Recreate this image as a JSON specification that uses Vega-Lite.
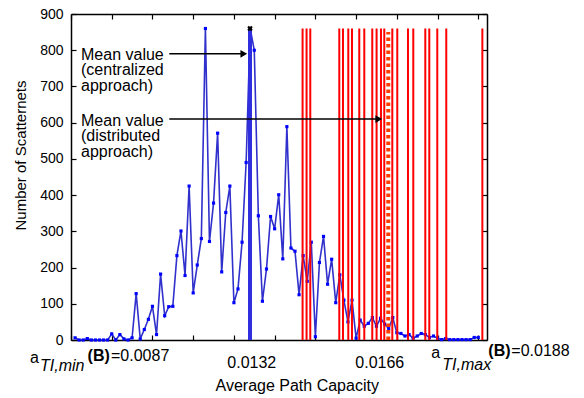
{
  "$schema": "https://vega.github.io/schema/vega-lite/v6.json",
  "width": 416,
  "height": 326,
  "autosize": {"type": "none"},
  "padding": {"left": 71, "top": 14, "right": 97, "bottom": 58},
  "background": "#ffffff",
  "config": {
    "view": {"stroke": null},
    "font": "Liberation Sans",
    "axis": {
      "grid": false,
      "domainColor": "#000000",
      "domainWidth": 1.5,
      "tickColor": "#000000",
      "tickWidth": 1.2,
      "tickSize": -5,
      "labelFont": "Liberation Sans",
      "labelFontSize": 14,
      "labelColor": "#000000",
      "titleFont": "Liberation Sans",
      "titleFontWeight": "normal",
      "titleColor": "#000000"
    }
  },
  "datasets": {
    "counts": [
      {"capacity": 0.0088, "count": 6}, {"capacity": 0.0089, "count": 0}, {"capacity": 0.0090, "count": 0}, {"capacity": 0.0091, "count": 4},
      {"capacity": 0.0092, "count": 0}, {"capacity": 0.0093, "count": 0}, {"capacity": 0.0094, "count": 0}, {"capacity": 0.0095, "count": 0},
      {"capacity": 0.0096, "count": 0}, {"capacity": 0.0097, "count": 17}, {"capacity": 0.0098, "count": 0}, {"capacity": 0.0099, "count": 15},
      {"capacity": 0.0100, "count": 3}, {"capacity": 0.0101, "count": 0}, {"capacity": 0.0102, "count": 6}, {"capacity": 0.0103, "count": 128},
      {"capacity": 0.0104, "count": 3}, {"capacity": 0.0105, "count": 29}, {"capacity": 0.0106, "count": 57}, {"capacity": 0.0107, "count": 93},
      {"capacity": 0.0108, "count": 15}, {"capacity": 0.0109, "count": 182}, {"capacity": 0.0110, "count": 67}, {"capacity": 0.0111, "count": 92},
      {"capacity": 0.0112, "count": 93}, {"capacity": 0.0113, "count": 233}, {"capacity": 0.0114, "count": 301}, {"capacity": 0.0115, "count": 178},
      {"capacity": 0.0116, "count": 425}, {"capacity": 0.0117, "count": 130}, {"capacity": 0.0118, "count": 207}, {"capacity": 0.0119, "count": 280},
      {"capacity": 0.0120, "count": 860}, {"capacity": 0.0121, "count": 272}, {"capacity": 0.0122, "count": 378}, {"capacity": 0.0123, "count": 571},
      {"capacity": 0.0124, "count": 188}, {"capacity": 0.0125, "count": 352}, {"capacity": 0.0126, "count": 425}, {"capacity": 0.0127, "count": 103},
      {"capacity": 0.0128, "count": 141}, {"capacity": 0.0129, "count": 270}, {"capacity": 0.0130, "count": 490}, {"capacity": 0.0131, "count": 860},
      {"capacity": 0.0132, "count": 800}, {"capacity": 0.0133, "count": 343}, {"capacity": 0.0134, "count": 107}, {"capacity": 0.0135, "count": 196},
      {"capacity": 0.0136, "count": 341}, {"capacity": 0.0137, "count": 307}, {"capacity": 0.0138, "count": 401}, {"capacity": 0.0139, "count": 224},
      {"capacity": 0.0140, "count": 589}, {"capacity": 0.0141, "count": 254}, {"capacity": 0.0142, "count": 245}, {"capacity": 0.0143, "count": 125},
      {"capacity": 0.0144, "count": 233}, {"capacity": 0.0145, "count": 162}, {"capacity": 0.0146, "count": 270}, {"capacity": 0.0147, "count": 9},
      {"capacity": 0.0148, "count": 214}, {"capacity": 0.0149, "count": 286}, {"capacity": 0.0150, "count": 154}, {"capacity": 0.0151, "count": 223},
      {"capacity": 0.0152, "count": 103}, {"capacity": 0.0153, "count": 180}, {"capacity": 0.0154, "count": 110}, {"capacity": 0.0155, "count": 50},
      {"capacity": 0.0156, "count": 110}, {"capacity": 0.0157, "count": 5}, {"capacity": 0.0158, "count": 55}, {"capacity": 0.0159, "count": 38},
      {"capacity": 0.0160, "count": 46}, {"capacity": 0.0161, "count": 62}, {"capacity": 0.0162, "count": 38}, {"capacity": 0.0163, "count": 60},
      {"capacity": 0.0164, "count": 44}, {"capacity": 0.0165, "count": 31}, {"capacity": 0.0166, "count": 62}, {"capacity": 0.0167, "count": 20},
      {"capacity": 0.0168, "count": 18}, {"capacity": 0.0169, "count": 11}, {"capacity": 0.0170, "count": 15}, {"capacity": 0.0171, "count": 5},
      {"capacity": 0.0172, "count": 11}, {"capacity": 0.0173, "count": 18}, {"capacity": 0.0174, "count": 15}, {"capacity": 0.0175, "count": 7},
      {"capacity": 0.0176, "count": 11}, {"capacity": 0.0177, "count": 5}, {"capacity": 0.0178, "count": 1}, {"capacity": 0.0179, "count": 4},
      {"capacity": 0.0180, "count": 1}, {"capacity": 0.0181, "count": 1}, {"capacity": 0.0182, "count": 1}, {"capacity": 0.0183, "count": 1},
      {"capacity": 0.0184, "count": 1}, {"capacity": 0.0185, "count": 1}, {"capacity": 0.0186, "count": 7}, {"capacity": 0.0187, "count": 7}
    ],
    "distributed": [
      {"capacity": 0.014386, "lo": 0, "hi": 860}, {"capacity": 0.014484, "lo": 0, "hi": 860}, {"capacity": 0.014575, "lo": 0, "hi": 860},
      {"capacity": 0.015287, "lo": 0, "hi": 860}, {"capacity": 0.015378, "lo": 0, "hi": 860}, {"capacity": 0.015508, "lo": 0, "hi": 860},
      {"capacity": 0.015599, "lo": 0, "hi": 860}, {"capacity": 0.015778, "lo": 0, "hi": 860}, {"capacity": 0.015901, "lo": 0, "hi": 860},
      {"capacity": 0.016097, "lo": 0, "hi": 860}, {"capacity": 0.016203, "lo": 0, "hi": 860}, {"capacity": 0.016311, "lo": 0, "hi": 860},
      {"capacity": 0.016392, "lo": 0, "hi": 860}, {"capacity": 0.016589, "lo": 0, "hi": 860}, {"capacity": 0.016711, "lo": 0, "hi": 860},
      {"capacity": 0.016974, "lo": 0, "hi": 860}, {"capacity": 0.017104, "lo": 0, "hi": 860}, {"capacity": 0.017399, "lo": 0, "hi": 860},
      {"capacity": 0.017497, "lo": 0, "hi": 860}, {"capacity": 0.017693, "lo": 0, "hi": 860}, {"capacity": 0.017914, "lo": 0, "hi": 860},
      {"capacity": 0.0188, "lo": 0, "hi": 860}
    ],
    "distMean": [{"capacity": 0.01649, "lo": 0, "hi": 850}],
    "centMean": [{"capacity": 0.013095, "lo": 0, "hi": 860}],
    "arrows": [
      {"start": 0.011113, "end": 0.012943, "count": 790},
      {"start": 0.011113, "end": 0.016257, "count": 610}
    ],
    "notes": [
      {"label": "Mean value\n(centralized\napproach)", "capacity": 0.008946, "count": 788},
      {"label": "Mean value\n(distributed\napproach)", "capacity": 0.008946, "count": 605}
    ],
    "ticklabels": [
      {"label": "0.0132", "capacity": 0.013139, "count": -78},
      {"label": "0.0166", "capacity": 0.016282, "count": -78}
    ],
    "eqlabels": [
      {"label": "=0.0087", "capacity": 0.009682, "count": -57},
      {"label": "=0.0188", "capacity": 0.019511, "count": -44}
    ],
    "boldlabels": [
      {"label": "(B)", "capacity": 0.009108, "count": -57},
      {"label": "(B)", "capacity": 0.018946, "count": -44}
    ],
    "italiclabels": [
      {"label": "TI,min", "capacity": 0.007939, "count": -85.6},
      {"label": "TI,max", "capacity": 0.017816, "count": -82}
    ],
    "alabels": [
      {"label": "a", "capacity": 0.007693, "count": -63.5},
      {"label": "a", "capacity": 0.017546, "count": -50}
    ]
  },
  "layer": [
    {
      "data": {"name": "counts"},
      "mark": {"type": "line", "color": "#3030cc", "strokeWidth": 1.6, "point": {"filled": true, "color": "#0000ff", "size": 10, "shape": "square"}},
      "encoding": {
        "x": {
          "field": "capacity", "type": "quantitative",
          "scale": {"domain": [0.0087, 0.018914], "nice": false, "zero": false},
          "axis": {
            "orient": "bottom",
            "values": [0.0087, 0.0097, 0.0107, 0.0117, 0.0127, 0.0137, 0.0147, 0.0157, 0.0167, 0.0177, 0.0187],
            "labels": false,
            "title": "Average Path Capacity",
            "titleFontSize": 16,
            "titleX": 225.7,
            "titleY": 50,
            "titleBaseline": "alphabetic",
            "titleAlign": "center"
          }
        },
        "y": {
          "field": "count", "type": "quantitative",
          "scale": {"domain": [0, 900], "nice": false, "zero": true},
          "axis": {
            "orient": "left",
            "values": [0, 100, 200, 300, 400, 500, 600, 700, 800, 900],
            "labelPadding": 13,
            "title": "Number of Scatternets",
            "titleFontSize": 15,
            "titleX": -46,
            "titleY": 141,
            "titleBaseline": "alphabetic",
            "titleAlign": "center"
          }
        }
      }
    },
    {
      "data": {"name": "counts"},
      "mark": {"type": "point", "opacity": 0},
      "encoding": {
        "x": {"field": "capacity", "type": "quantitative",
          "axis": {"orient": "top", "values": [0.0087, 0.0097, 0.0107, 0.0117, 0.0127, 0.0137, 0.0147, 0.0157, 0.0167, 0.0177, 0.0187], "labels": false, "title": null}},
        "y": {"field": "count", "type": "quantitative",
          "axis": {"orient": "right", "values": [0, 100, 200, 300, 400, 500, 600, 700, 800, 900], "labels": false, "title": null}}
      }
    },
    {
      "data": {"name": "distributed"},
      "mark": {"type": "rule", "color": "#ff0000", "strokeWidth": 2},
      "encoding": {
        "x": {"field": "capacity", "type": "quantitative", "axis": null},
        "y": {"field": "lo", "type": "quantitative", "axis": null},
        "y2": {"field": "hi"}
      }
    },
    {
      "data": {"name": "distMean"},
      "mark": {"type": "rule", "color": "#ff3c00", "strokeWidth": 4, "strokeDash": [3.5, 3]},
      "encoding": {
        "x": {"field": "capacity", "type": "quantitative", "axis": null},
        "y": {"field": "lo", "type": "quantitative", "axis": null},
        "y2": {"field": "hi"}
      }
    },
    {
      "data": {"name": "centMean"},
      "mark": {"type": "rule", "color": "#2f2fe0", "strokeWidth": 4},
      "encoding": {
        "x": {"field": "capacity", "type": "quantitative", "axis": null},
        "y": {"field": "lo", "type": "quantitative", "axis": null},
        "y2": {"field": "hi"}
      }
    },
    {
      "data": {"name": "centMean"},
      "mark": {"type": "point", "shape": "cross", "angle": 45, "filled": true, "color": "#000000", "size": 30, "opacity": 1},
      "encoding": {
        "x": {"field": "capacity", "type": "quantitative", "axis": null},
        "y": {"field": "hi", "type": "quantitative", "axis": null}
      }
    },
    {
      "data": {"name": "arrows"},
      "mark": {"type": "rule", "color": "#000000", "strokeWidth": 1.5},
      "encoding": {
        "x": {"field": "start", "type": "quantitative", "axis": null},
        "x2": {"field": "end"},
        "y": {"field": "count", "type": "quantitative", "axis": null}
      }
    },
    {
      "data": {"name": "arrows"},
      "mark": {"type": "point", "shape": "triangle-right", "filled": true, "color": "#000000", "size": 60, "opacity": 1},
      "encoding": {
        "x": {"field": "end", "type": "quantitative", "axis": null},
        "y": {"field": "count", "type": "quantitative", "axis": null}
      }
    },
    {
      "data": {"name": "notes"},
      "mark": {"type": "text", "align": "left", "baseline": "middle", "fontSize": 16, "lineHeight": 15.5, "lineBreak": "\n", "color": "#000000"},
      "encoding": {
        "x": {"field": "capacity", "type": "quantitative", "axis": null},
        "y": {"field": "count", "type": "quantitative", "axis": null},
        "text": {"field": "label"}
      }
    },
    {
      "data": {"name": "ticklabels"},
      "mark": {"type": "text", "align": "center", "baseline": "alphabetic", "fontSize": 16, "color": "#000000"},
      "encoding": {
        "x": {"field": "capacity", "type": "quantitative", "axis": null},
        "y": {"field": "count", "type": "quantitative", "axis": null},
        "text": {"field": "label"}
      }
    },
    {
      "data": {"name": "eqlabels"},
      "mark": {"type": "text", "align": "left", "baseline": "alphabetic", "fontSize": 16, "color": "#000000"},
      "encoding": {
        "x": {"field": "capacity", "type": "quantitative", "axis": null},
        "y": {"field": "count", "type": "quantitative", "axis": null},
        "text": {"field": "label"}
      }
    },
    {
      "data": {"name": "boldlabels"},
      "mark": {"type": "text", "align": "left", "baseline": "alphabetic", "fontSize": 16, "fontWeight": "bold", "color": "#000000"},
      "encoding": {
        "x": {"field": "capacity", "type": "quantitative", "axis": null},
        "y": {"field": "count", "type": "quantitative", "axis": null},
        "text": {"field": "label"}
      }
    },
    {
      "data": {"name": "italiclabels"},
      "mark": {"type": "text", "align": "left", "baseline": "alphabetic", "fontSize": 16, "fontStyle": "italic", "color": "#000000"},
      "encoding": {
        "x": {"field": "capacity", "type": "quantitative", "axis": null},
        "y": {"field": "count", "type": "quantitative", "axis": null},
        "text": {"field": "label"}
      }
    },
    {
      "data": {"name": "alabels"},
      "mark": {"type": "text", "align": "left", "baseline": "alphabetic", "fontSize": 16, "color": "#000000"},
      "encoding": {
        "x": {"field": "capacity", "type": "quantitative", "axis": null},
        "y": {"field": "count", "type": "quantitative", "axis": null},
        "text": {"field": "label"}
      }
    }
  ],
  "resolve": {"axis": {"x": "independent", "y": "independent"}}
}
